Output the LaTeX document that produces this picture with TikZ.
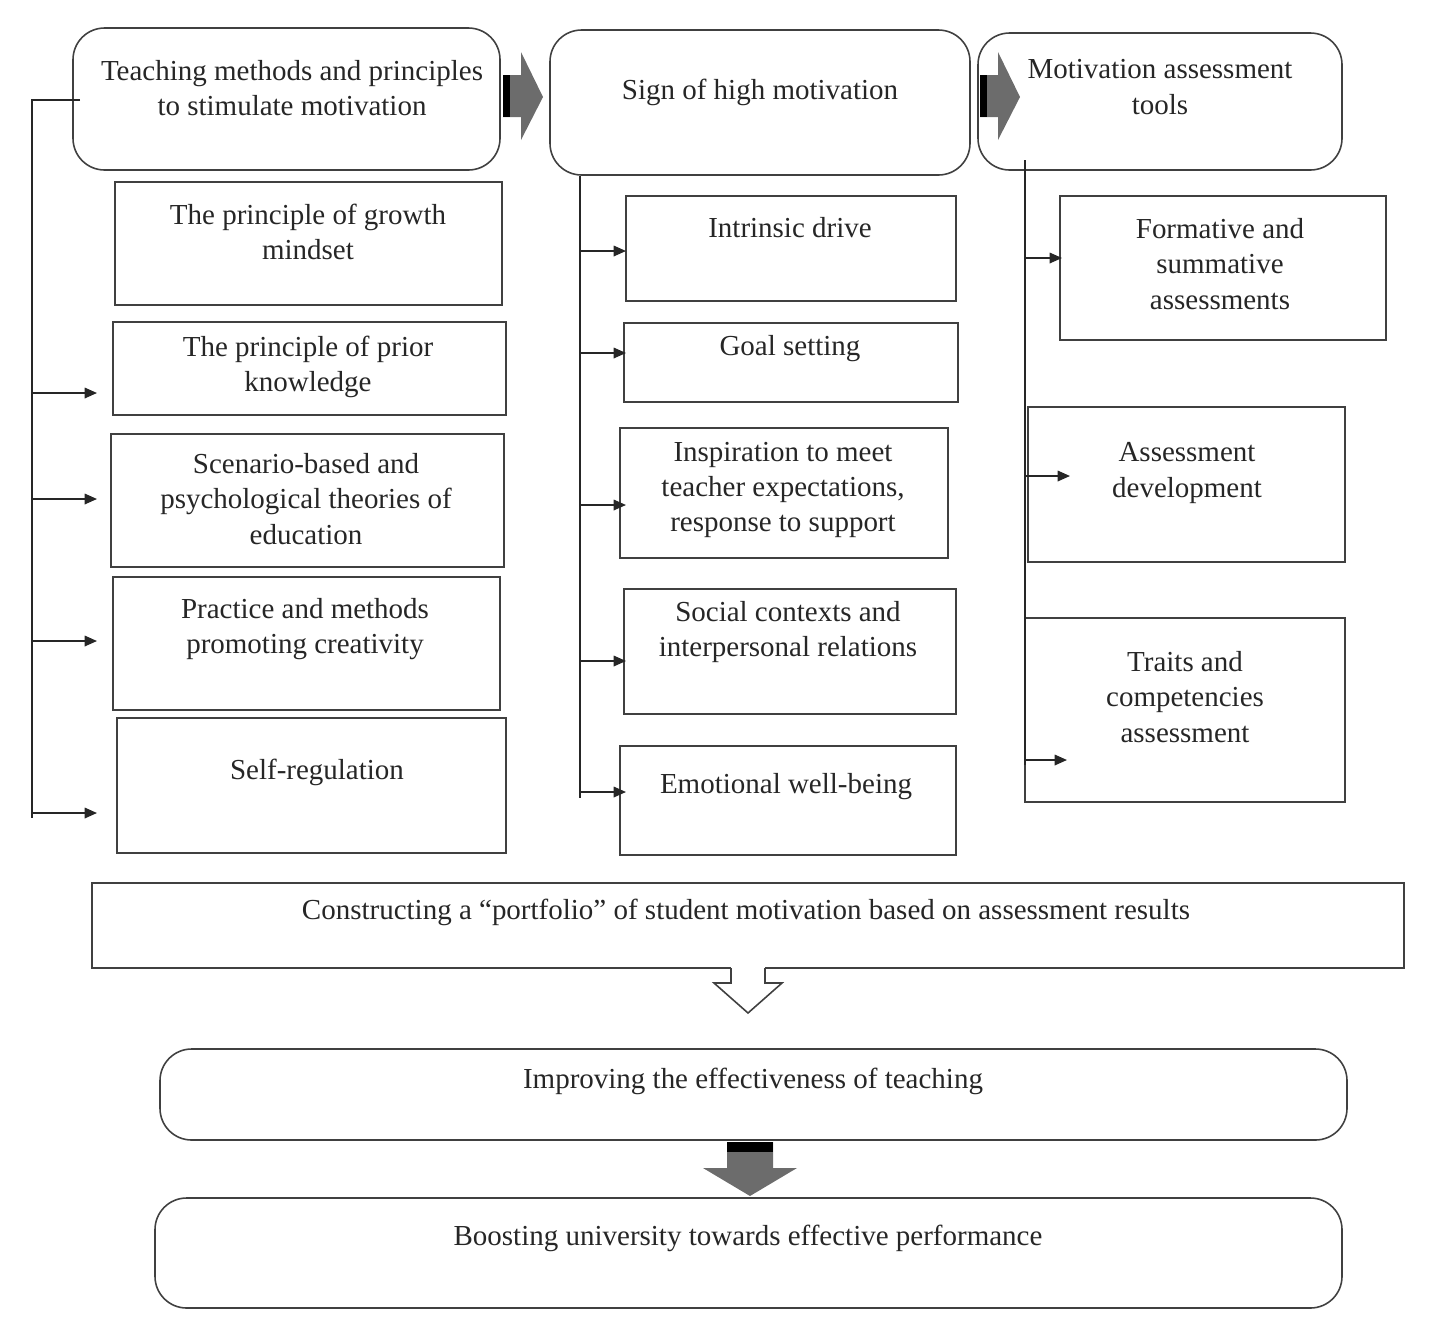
\documentclass[tikz,border=0pt]{standalone}
\usepackage{fontspec}
\setmainfont{Liberation Serif}
\usetikzlibrary{fit,arrows.meta}
\begin{document}
\begin{tikzpicture}[x=0.02cm,y=-0.02cm,
 box/.style={draw=black!75,line width=0.9pt,inner sep=0pt},
 rbox/.style={box,rounded corners=18pt},
 txt/.style={align=center,font=\fontsize{16.5}{20}\selectfont,text=black!85},
 con/.style={line width=0.9pt,draw=black!85},
 arr/.style={con,-{Triangle[length=7pt,width=6pt]}}]
\useasboundingbox (0,0) rectangle (1430,1333);
% top boxes
\node[rbox,fit={(73,28)(500,170)}] (t1) {};
\node[txt] at (292,88) {Teaching methods and principles\\to stimulate motivation};
\node[rbox,fit={(550,30)(970,175)}] (t2) {};
\node[txt] at (760,92) {Sign of high motivation};
\node[rbox,fit={(978,33)(1342,170)}] (t3) {};
\node[txt] at (1160,87) {Motivation assessment\\tools};
% grey arrows between top boxes
\foreach \x in {503,980}{
 \fill[gray!85!black] (\x,75) -- (\x+18,75) -- (\x+18,52) -- (\x+40,97) -- (\x+18,140) -- (\x+18,117) -- (\x,117) -- cycle;
 \fill[black] (\x,75) rectangle (\x+7,117);
}
% left column
\node[box,fit={(115,182)(502,305)}] (a1) {};
\node[txt] at (308,232) {The principle of growth\\mindset};
\node[box,fit={(113,322)(506,415)}] (a2) {};
\node[txt] at (308,367) {The principle of prior\\knowledge};
\node[box,fit={(111,434)(504,567)}] (a3) {};
\node[txt] at (306,499) {Scenario-based and\\psychological theories of\\education};
\node[box,fit={(113,577)(500,710)}] (a4) {};
\node[txt] at (305,629) {Practice and methods\\promoting creativity};
\node[box,fit={(117,718)(506,853)}] (a5) {};
\node[txt] at (317,772) {Self-regulation};
\coordinate (lt) at (32,100); \coordinate (lb) at (32,818);
\draw[con] (t1.west|-lt) ++(8,0) -- (lt) -- (lb);
\foreach \y in {393,499,641,813}{\draw[arr] (32,\y) -- (97,\y);}
% middle column
\node[box,fit={(626,196)(956,301)}] (b1) {};
\node[txt] at (790,228) {Intrinsic drive};
\node[box,fit={(624,323)(958,402)}] (b2) {};
\node[txt] at (790,349) {Goal setting};
\node[box,fit={(620,428)(948,558)}] (b3) {};
\node[txt] at (783,490) {Inspiration to meet\\teacher expectations,\\response to support};
\node[box,fit={(624,589)(956,714)}] (b4) {};
\node[txt] at (788,632) {Social contexts and\\interpersonal relations};
\node[box,fit={(620,746)(956,855)}] (b5) {};
\node[txt] at (786,787) {Emotional well-being};
\draw[con] (t2.south-|580,0) -- (580,798);
\foreach \y in {251,353,505,661,792}{\draw[arr] (580,\y) -- (626,\y);}
% right column
\node[box,fit={(1060,196)(1386,340)}] (c1) {};
\node[txt] at (1220,264) {Formative and\\summative\\assessments};
\node[box,fit={(1028,407)(1345,562)}] (c2) {};
\node[txt] at (1187,473) {Assessment\\development};
\node[box,fit={(1025,618)(1345,802)}] (c3) {};
\node[txt] at (1185,697) {Traits and\\competencies\\assessment};
\draw[con] (1025,160) -- (1025,765);
\draw[arr] (1025,258) -- (1062,258);
\draw[arr] (1025,476) -- (1070,476);
\draw[arr] (1025,760) -- (1067,760);
% bottom
\node[box,fit={(92,883)(1404,968)}] (p) {};
\node[txt] at (746,912) {Constructing a “portfolio” of student motivation based on assessment results};
\fill[white] (731,966) rectangle (765,970);
\draw[con,draw=black!75,fill=white] (731,968) -- (731,983) -- (714,983) -- (748,1013) -- (782,983) -- (765,983) -- (765,968);
\node[rbox,fit={(160,1049)(1347,1140)}] (im) {};
\node[txt] at (753,1081) {Improving the effectiveness of teaching};
\fill[gray!85!black] (727,1142) -- (773,1142) -- (773,1168) -- (797,1168) -- (750,1196) -- (703,1168) -- (727,1168) -- cycle;
\fill[black] (727,1142) rectangle (773,1152);
\node[rbox,fit={(155,1198)(1342,1308)}] (bo) {};
\node[txt] at (748,1238) {Boosting university towards effective performance};
\end{tikzpicture}
\end{document}
